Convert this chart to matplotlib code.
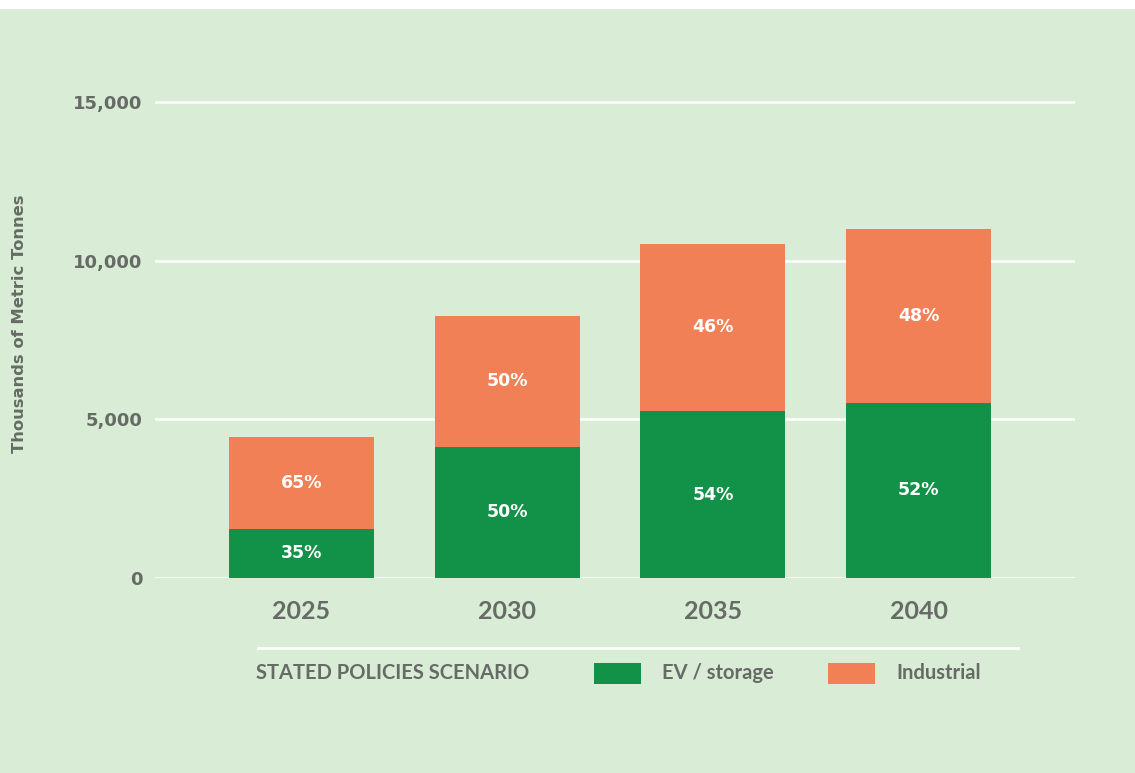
"""Stacked bar chart: demand by end use, stated policies scenario."""

import matplotlib.pyplot as plt
from matplotlib.patches import Rectangle

# --- Data ---
years = ["2025", "2030", "2035", "2040"]
ev_storage = [1550, 4130, 5260, 5520]
industrial = [2900, 4130, 5270, 5480]
ev_pct = ["35%", "50%", "54%", "52%"]
ind_pct = ["65%", "50%", "46%", "48%"]
yticks = [0, 5000, 10000, 15000]

# --- Palette ---
BG = "#d9ecd6"
GREEN = "#129248"
ORANGE = "#f28056"
TEXT = "#666b66"
WIDE = ["DejaVu Sans"]          # stands in for the geometric face
NARROW = ["Lato", "DejaVu Sans"]  # stands in for the condensed face

plt.rcParams.update({
    "font.family": NARROW,
    "figure.facecolor": BG,
})

fig = plt.figure(figsize=(11.35, 7.73), dpi=100)
fig.patches.append(Rectangle((0, 1 - 9 / 773), 1, 9 / 773, transform=fig.transFigure,
                             facecolor="white", edgecolor="none", zorder=0))

ax = fig.add_axes([155 / 1135, 195 / 773, 920 / 1135, 485.5 / 773])
ax.set_facecolor("none")

x = range(len(years))
totals = [e + i for e, i in zip(ev_storage, industrial)]
ax.bar(x, ev_storage, width=0.705, color=GREEN, zorder=3)
ax.bar(x, industrial, width=0.705, bottom=ev_storage, color=ORANGE, zorder=3)

for xi, e, t, ep, ip in zip(x, ev_storage, totals, ev_pct, ind_pct):
    ax.text(xi, e / 2, ep, ha="center", va="center", color="white",
            fontsize=12.5, fontweight="bold", family=WIDE, zorder=4)
    ax.text(xi, (e + t) / 2, ip, ha="center", va="center", color="white",
            fontsize=12.5, fontweight="bold", family=WIDE, zorder=4)

ax.set_xlim(-0.712, 3.76)
ax.set_ylim(0, 15300)
ax.set_yticks(yticks)
ax.set_yticklabels([f"{v:,}" for v in yticks])
ax.set_xticks(list(x))
ax.set_xticklabels(years)
for v in yticks:
    ax.axhline(v, color="white", linewidth=1.8, zorder=1)

for s in ax.spines.values():
    s.set_visible(False)
ax.tick_params(axis="both", length=0, colors=TEXT)
ax.tick_params(axis="y", labelsize=13, pad=9)
ax.tick_params(axis="x", labelsize=18, pad=16)
for lbl in ax.get_yticklabels():
    lbl.set_fontweight("bold")
    lbl.set_family(WIDE)
for lbl in ax.get_xticklabels():
    lbl.set_fontweight("bold")

fig.text(20 / 1135, 1 - 324 / 773, "Thousands of Metric Tonnes", rotation=90,
         ha="center", va="center", fontsize=11.8, fontweight="bold", color=TEXT,
         family=WIDE)

# --- Legend row ---
fig.add_artist(plt.Line2D([258 / 1135, 1018 / 1135], [1 - 648 / 773] * 2,
                          color="white", linewidth=2, transform=fig.transFigure))
ly = 1 - 673 / 773
fig.text(256 / 1135, ly, "STATED POLICIES SCENARIO", ha="left", va="center",
         fontsize=14.5, fontweight="bold", color=TEXT)
for x0, color, label, tx in [(594, GREEN, "EV / storage", 662), (828, ORANGE, "Industrial", 896)]:
    fig.patches.append(Rectangle((x0 / 1135, 1 - 684 / 773), 47 / 1135, 21 / 773,
                                 transform=fig.transFigure, facecolor=color,
                                 edgecolor="none"))
    fig.text(tx / 1135, ly, label, ha="left", va="center",
             fontsize=14.5, fontweight="bold", color=TEXT)

fig.savefig("out.png", dpi=100, facecolor=BG)
